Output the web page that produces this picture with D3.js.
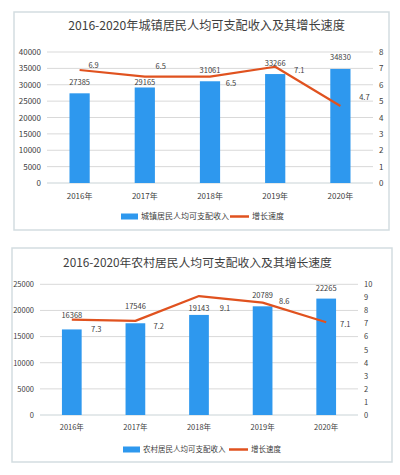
<!DOCTYPE html>
<html>
<head>
<meta charset="utf-8">
<script src="https://cdn.jsdelivr.net/npm/d3@7"></script>
<style>
  html, body { margin: 0; padding: 0; background: #ffffff; }
  svg { display: block; }
  text { font-family: "Noto Sans CJK SC", "Noto Sans", sans-serif; }
</style>
</head>
<body>
<script>
// ---- data ----
const years = ["2016年", "2017年", "2018年", "2019年", "2020年"];
const urbanIncome = [27385, 29165, 31061, 33266, 34830];
const urbanGrowth = [6.9, 6.5, 6.5, 7.1, 4.7];
const ruralIncome = [16368, 17546, 19143, 20789, 22265];
const ruralGrowth = [7.3, 7.2, 9.1, 8.6, 7.1];
const urbanTitle = "2016-2020年城镇居民人均可支配收入及其增长速度";
const ruralTitle = "2016-2020年农村居民人均可支配收入及其增长速度";
const urbanBarName = "城镇居民人均可支配收入";
const ruralBarName = "农村居民人均可支配收入";
const lineName = "增长速度";
const urbanLeftMax = 40000, urbanRightMax = 8;
const ruralLeftMax = 25000, ruralRightMax = 10;

// ---- layout / style ----
const BAR = "#2e98ee", LINE = "#e0521f", GRID = "#d9d9d9", TXT = "#404040", BORDER = "#d3dde1";

const svg = d3.select("body").append("svg").attr("width", 400).attr("height", 475);

function drawChart(cfg) {
  const g = svg.append("g");
  g.append("rect").attr("x", cfg.box[0]).attr("y", cfg.box[1])
    .attr("width", cfg.box[2] - cfg.box[0]).attr("height", cfg.box[3] - cfg.box[1])
    .attr("fill", "#fff").attr("stroke", BORDER).attr("stroke-width", 1.5);

  g.append("text").attr("x", cfg.titleX).attr("y", cfg.titleY)
    .attr("text-anchor", "middle").attr("font-size", cfg.titleSize).attr("fill", TXT)
    .text(cfg.title);

  const x = d3.scaleBand().domain(cfg.cats).range([cfg.left, cfg.right]).paddingInner(0).paddingOuter(0);
  const yL = d3.scaleLinear().domain([0, cfg.leftMax]).range([cfg.bottom, cfg.top]);
  const yR = d3.scaleLinear().domain([0, cfg.rightMax]).range([cfg.bottom, cfg.top]);

  // gridlines
  g.append("g").selectAll("line").data(yL.ticks(cfg.leftTicks)).join("line")
    .attr("x1", cfg.left).attr("x2", cfg.right)
    .attr("y1", d => yL(d)).attr("y2", d => yL(d))
    .attr("stroke", d => d === 0 ? "#c9d3d6" : GRID).attr("stroke-width", 1);

  // left axis
  const axL = d3.axisLeft(yL).ticks(cfg.leftTicks).tickSize(0).tickPadding(cfg.tickPad).tickFormat(d3.format("d"));
  const gl = g.append("g").attr("transform", `translate(${cfg.left},0)`).call(axL);
  gl.select(".domain").remove();
  gl.selectAll("text").attr("font-size", cfg.axisSize).attr("fill", TXT)
    .style("font-family", "'Noto Sans CJK SC', sans-serif");

  // right axis
  const axR = d3.axisRight(yR).ticks(cfg.rightMax).tickSize(0).tickPadding(cfg.tickPad).tickFormat(d3.format("d"));
  const gr = g.append("g").attr("transform", `translate(${cfg.right},0)`).call(axR);
  gr.select(".domain").remove();
  gr.selectAll("text").attr("font-size", cfg.axisSize).attr("fill", TXT)
    .style("font-family", "'Noto Sans CJK SC', sans-serif");

  // bottom axis
  const axB = d3.axisBottom(x).tickSize(0).tickPadding(cfg.xPad);
  const gb = g.append("g").attr("transform", `translate(0,${cfg.bottom})`).call(axB);
  gb.select(".domain").remove();
  gb.selectAll("text").attr("font-size", cfg.axisSize).attr("fill", TXT)
    .style("font-family", "'Noto Sans CJK SC', sans-serif");

  const bw = x.bandwidth() * cfg.barFrac;
  const cx = d => x(d) + x.bandwidth() / 2;
  const rows = cfg.cats.map((c, i) => ({ c, v: cfg.bars[i], r: cfg.rate[i], i }));

  g.append("g").selectAll("rect").data(rows).join("rect")
    .attr("x", d => cx(d.c) - bw / 2).attr("width", bw)
    .attr("y", d => yL(d.v)).attr("height", d => yL(0) - yL(d.v))
    .attr("fill", BAR);

  const line = d3.line().x(d => cx(d.c)).y(d => yR(d.r));
  g.append("path").datum(rows).attr("d", line)
    .attr("fill", "none").attr("stroke", LINE).attr("stroke-width", 2.2)
    .attr("stroke-linejoin", "round");

  // bar value labels
  g.append("g").selectAll("text").data(rows).join("text")
    .attr("x", d => cx(d.c)).attr("y", d => yL(d.v) + cfg.barLabelDy[d.i])
    .attr("text-anchor", "middle").attr("font-size", cfg.valSize).attr("fill", TXT)
    .text(d => d.v);

  // line value labels
  g.append("g").selectAll("text").data(rows).join("text")
    .attr("x", d => cx(d.c) + cfg.lineLabelOff[d.i][0])
    .attr("y", d => yR(d.r) + cfg.lineLabelOff[d.i][1])
    .attr("dy", "0.35em")
    .attr("text-anchor", "middle").attr("font-size", cfg.valSize).attr("fill", TXT)
    .text(d => d3.format(".1f")(d.r));

  // legend
  const L = cfg.legend;
  g.append("rect").attr("x", L.x).attr("y", L.y - 3).attr("width", 17).attr("height", 6).attr("fill", BAR);
  g.append("text").attr("x", L.x + 20).attr("y", L.y).attr("dy", "0.35em")
    .attr("font-size", L.size).attr("fill", TXT).text(cfg.barName);
  g.append("line").attr("x1", L.lineX).attr("x2", L.lineX + 19).attr("y1", L.y).attr("y2", L.y)
    .attr("stroke", LINE).attr("stroke-width", 2.5);
  g.append("text").attr("x", L.lineX + 22).attr("y", L.y).attr("dy", "0.35em")
    .attr("font-size", L.size).attr("fill", TXT).text(lineName);
}

drawChart({
  box: [14, 12, 389, 230],
  title: urbanTitle, titleX: 206.5, titleY: 29.6, titleSize: 12.15,
  cats: years, bars: urbanIncome, rate: urbanGrowth,
  leftMax: urbanLeftMax, rightMax: urbanRightMax, leftTicks: 8,
  left: 47, right: 373, top: 52, bottom: 183,
  tickPad: 6, xPad: 10, axisSize: 8, valSize: 7.5, barFrac: 0.31,
  barLabelDy: [-8, -2, -8.5, -8.5, -8.5],
  lineLabelOff: [[14, -4.5], [16, -10.5], [21, 7], [24, 4], [24, -9]],
  barName: urbanBarName,
  legend: { x: 121, y: 216.5, lineX: 230, size: 8 }
});

drawChart({
  box: [12, 248, 392, 462],
  title: ruralTitle, titleX: 197.5, titleY: 267, titleSize: 11.8,
  cats: years, bars: ruralIncome, rate: ruralGrowth,
  leftMax: ruralLeftMax, rightMax: ruralRightMax, leftTicks: 5,
  left: 40, right: 358, top: 284.3, bottom: 415,
  tickPad: 6, xPad: 10, axisSize: 7.5, valSize: 7.5, barFrac: 0.31,
  barLabelDy: [-11.5, -14.5, -4, -8, -8],
  lineLabelOff: [[24.5, 9.7], [23.3, 5.8], [26, 12], [21.7, -1], [19, 2]],
  barName: ruralBarName,
  legend: { x: 123, y: 449.5, lineX: 229, size: 7.5 }
});
</script>
</body>
</html>
